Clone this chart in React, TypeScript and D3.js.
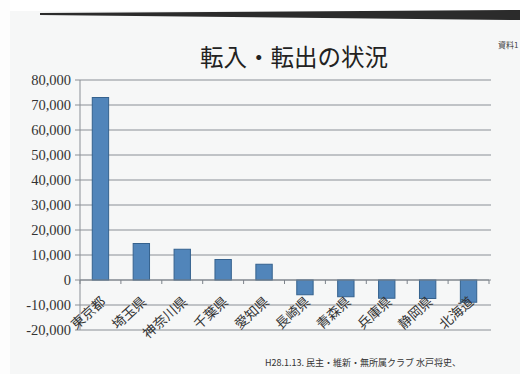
import React from "react";
import * as d3 from "d3";

const categories = ["東京都", "埼玉県", "神奈川県", "千葉県", "愛知県", "長崎県", "青森県", "兵庫県", "静岡県", "北海道"];
const values = [73000, 14600, 12300, 8200, 6300, -5900, -6700, -7300, -7400, -8900];
const yTicks = [80000, 70000, 60000, 50000, 40000, 30000, 20000, 10000, 0, -10000, -20000];
const title = "転入・転出の状況";
const note = "資料1";
const footer = "H28.1.13. 民主・維新・無所属クラブ 水戸将史、";

const W = 520, H = 374;
const x0 = 80, x1 = 489, yTop = 80, yBot = 330;

export default function App() {
  const x = d3.scaleBand<string>().domain(categories).range([x0, x1]).paddingInner(0.6).paddingOuter(0.3);
  const y = d3.scaleLinear().domain([-20000, 80000]).range([yBot, yTop]);
  const fmt = d3.format(",");
  const step = x.step();
  const zero = y(0);
  const cjk = "'Noto Sans CJK JP', sans-serif";
  const serif = "'Liberation Serif', 'DejaVu Serif', serif";
  return (
    <svg width={W} height={H} style={{ position: "absolute", left: 0, top: 0, display: "block" }}>
      <rect x={0} y={0} width={W} height={H} fill="#f6f7f7" />
      <rect x={0} y={0} width={W} height={11} fill="#ffffff" />
      <path d="M40,13 L520,10 L520,20 L40,15 Z" fill="#2b2b2b" />
      <rect x={0} y={0} width={10} height={H} fill="#fdfdfd" />
      <text x={294} y={66} textAnchor="middle" fontFamily={cjk} fontSize={23.5} fill="#222">{title}</text>
      <text x={498} y={48} fontFamily={cjk} fontSize={8} fill="#444">{note}</text>
      {yTicks.map((t) => (
        <g key={t}>
          <line x1={x0} x2={x1 + 2} y1={y(t)} y2={y(t)} stroke="#8a8f96" strokeWidth={1} />
          <line x1={x0 - 5} x2={x0} y1={y(t)} y2={y(t)} stroke="#8a8f96" strokeWidth={1} />
          <text x={71} y={y(t)} dy="0.35em" textAnchor="end" fontFamily={serif} fontSize={14.5} fill="#333">{t === 0 ? "0" : fmt(t).replace("−", "-")}</text>
        </g>
      ))}
      <line x1={x0} x2={x0} y1={yTop} y2={yBot} stroke="#8a8f96" strokeWidth={1} />
      {values.map((v, i) => {
        const c = categories[i];
        const top = y(Math.max(0, v));
        const h = Math.abs(y(v) - zero);
        return (
          <rect key={c} x={x(c)} y={top} width={x.bandwidth()} height={h} fill="#5185ba" stroke="#35628e" strokeWidth={1} />
        );
      })}
      <line x1={x0} x2={x1} y1={zero} y2={zero} stroke="#7d838a" strokeWidth={1} />
      {d3.range(categories.length + 1).map((k) => (
        <line key={k} x1={x0 + step * k} x2={x0 + step * k} y1={zero} y2={zero + 4} stroke="#7d838a" strokeWidth={1} />
      ))}
      {categories.map((c) => {
        const cx = (x(c) as number) + x.bandwidth() / 2 + 6;
        const cy = zero + 23;
        return (
          <text key={c} x={cx} y={cy} textAnchor="end" transform={`rotate(-42 ${cx} ${cy})`} fontFamily={cjk} fontSize={13.5} fill="#333">{c}</text>
        );
      })}
      <text x={265} y={366} fontFamily={cjk} fontSize={9} fill="#333">{footer}</text>
    </svg>
  );
}
